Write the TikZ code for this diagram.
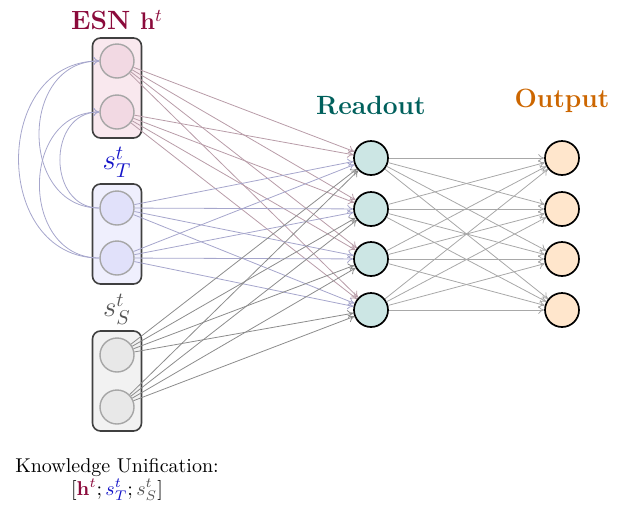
\documentclass[tikz,border=0pt]{standalone}
\usepackage{amsmath}
\usetikzlibrary{arrows.meta}
\definecolor{esnc}{HTML}{8B0A3B}
\definecolor{esnbox}{HTML}{F9E8EE}
\definecolor{esncirc}{HTML}{F2D9E3}
\definecolor{esnline}{HTML}{B89CA8}
\definecolor{stc}{HTML}{1414C8}
\definecolor{stbox}{HTML}{EFEFFD}
\definecolor{stcirc}{HTML}{E1E1FA}
\definecolor{stline}{HTML}{A6A6CC}
\definecolor{ssc}{HTML}{555555}
\definecolor{ssbox}{HTML}{F2F2F2}
\definecolor{sscirc}{HTML}{E8E8E8}
\definecolor{ssline}{HTML}{8C8C8C}
\definecolor{roc}{HTML}{00605C}
\definecolor{rofill}{HTML}{CCE6E4}
\definecolor{outc}{HTML}{CC6600}
\definecolor{outfill}{HTML}{FFE6CC}
\definecolor{roline}{HTML}{A8A8A8}
\begin{document}
\begin{tikzpicture}[x=0.5pt,y=-0.5pt,
  grpbox/.style={draw=black!75,line width=0.8pt,rounded corners=4pt,minimum width=24.5pt,minimum height=50pt,inner sep=0pt},
  incirc/.style={circle,draw=black!35,line width=0.7pt,minimum size=17pt,inner sep=0pt},
  outcirc/.style={circle,draw=black,line width=0.85pt,minimum size=17pt,inner sep=0pt},
  conn/.style={line width=0.4pt,-{To[length=3pt,width=4pt]}},
  ttl/.style={font=\fontsize{13.2}{15}\selectfont\bfseries},
  lbl/.style={font=\Large}]
\useasboundingbox (0,0) rectangle (619,504);
% group boxes
\node[grpbox,fill=esnbox] (be) at (117,88) {};
\node[grpbox,fill=stbox] (bt) at (117,234) {};
\node[grpbox,fill=ssbox] (bs) at (117,381) {};
% inner circles
\node[incirc,fill=esncirc] (e1) at (117,61) {};
\node[incirc,fill=esncirc] (e2) at (117,112) {};
\node[incirc,fill=stcirc] (t1) at (117,208) {};
\node[incirc,fill=stcirc] (t2) at (117,258) {};
\node[incirc,fill=sscirc] (s1) at (117,355) {};
\node[incirc,fill=sscirc] (s2) at (117,407) {};
% readout and output
\foreach \i/\yy in {1/158,2/209,3/259,4/310}{
  \node[outcirc,fill=rofill] (r\i) at (371,\yy) {};
  \node[outcirc,fill=outfill] (o\i) at (562,\yy) {};
}
% titles
\node[ttl,text=esnc] (te) at (117,20) {ESN $\mathbf{h}^{t}$};
\node[lbl,text=stc] (tt) at (117,162) {$s_T^t$};
\node[lbl,text=ssc] (ts) at (117,309) {$s_S^t$};
\node[ttl,text=roc] (tr) at (371,105) {Readout};
\node[ttl,text=outc] (to) at (562,101) {Output};
\node (ku) at (117,467) {Knowledge Unification:};
\node (kf) at (117,490) {$[\textcolor{esnc}{\mathbf{h}^{t}};\textcolor{stc}{s_T^t};\textcolor{ssc}{s_S^t}]$};
% connections to readout
\foreach \s in {e1,e2}{\foreach \i in {1,2,3,4}{\draw[conn,esnline] (\s) -- (r\i);}}
\foreach \s in {t1,t2}{\foreach \i in {1,2,3,4}{\draw[conn,stline] (\s) -- (r\i);}}
\foreach \s in {s1,s2}{\foreach \i in {1,2,3,4}{\draw[conn,ssline] (\s) -- (r\i);}}
\foreach \i in {1,2,3,4}{\foreach \j in {1,2,3,4}{\draw[conn,roline] (r\i) -- (o\j);}}
% recurrent connections
\foreach \s in {t1,t2}{\foreach \d in {e1,e2}{
  \draw[conn,stline] (\s) to[out=180,in=180,looseness=1.4] (\d);}}
\end{tikzpicture}
\end{document}
